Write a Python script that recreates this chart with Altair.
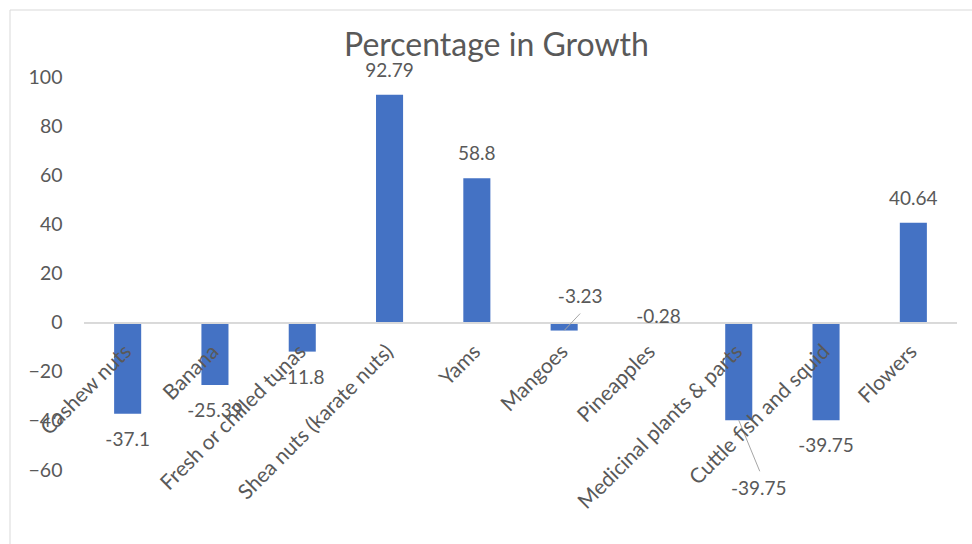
import altair as alt
import pandas as pd

categories = ["Cashew nuts", "Banana", "Fresh or chilled tunas", "Shea nuts (karate nuts)",
              "Yams", "Mangoes", "Pineapples", "Medicinal plants & parts",
              "Cuttle fish and squid", "Flowers"]
values = [-37.1, -25.39, -11.8, 92.79, 58.8, -3.23, -0.28, -39.75, -39.75, 40.64]
value_labels = ["-37.1", "-25.39", "-11.8", "92.79", "58.8", "-3.23", "-0.28", "-39.75", "-39.75", "40.64"]
y_ticks = [-60, -40, -20, 0, 20, 40, 60, 80, 100]

df = pd.DataFrame({"cat": categories, "val": values, "lab": value_labels})

FONT = "Lato"
GREY = "#595959"
BLUE = "#4472C4"

xenc = alt.X("cat:N", sort=categories, axis=None,
             scale=alt.Scale(paddingInner=0, paddingOuter=0))
yscale = alt.Scale(domain=[-60, 100], nice=False, zero=False)
yaxis = alt.Axis(values=y_ticks, title=None, domain=False, ticks=False,
                 grid=False, labelFont=FONT, labelFontSize=19.5,
                 labelColor=GREY, labelPadding=22)
yenc = alt.Y("val:Q", axis=yaxis, scale=yscale)

base = alt.Chart(df)

border = alt.Chart(pd.DataFrame({"a": [0]})).mark_rect(
    fillOpacity=0, stroke="#d9d9d9", strokeWidth=1
).encode(x=alt.value(-74), x2=alt.value(1000), y=alt.value(-67), y2=alt.value(600))

bars = base.mark_bar(color=BLUE, width=alt.RelativeBandSize(0.31)).encode(x=xenc, y=yenc)

zero = base.mark_rule(color="#d9d9d9", strokeWidth=1.5).encode(
    y=alt.datum(0, axis=yaxis, scale=yscale))

def lab_layer(cond, dx, dy):
    return base.transform_filter(cond).mark_text(
        font=FONT, fontSize=19, color=GREY, align="center", baseline="middle", dx=dx, dy=dy
    ).encode(x=xenc, y=yenc, text="lab:N")

pos_labels = lab_layer("datum.val > 0", 0, -24)
neg_labels = lab_layer("datum.val < 0 && datum.cat != 'Mangoes' && datum.cat != 'Pineapples' "
                       "&& datum.cat != 'Medicinal plants & parts'", 0, 26)
mango_label = lab_layer("datum.cat == 'Mangoes'", 16, -34)
pine_label = lab_layer("datum.cat == 'Pineapples'", 7, -6)
med_label = lab_layer("datum.cat == 'Medicinal plants & parts'", 20, 69)

def leader(name, x2o, y2o):
    return base.transform_filter(f"datum.cat == '{name}'").mark_rule(
        color="#a6a6a6", strokeWidth=1, x2Offset=x2o, y2Offset=y2o
    ).encode(x=xenc, x2="cat:N", y=yenc, y2="val:Q")

mango_leader = leader("Mangoes", 16, -17)
med_leader = leader("Medicinal plants & parts", 21, 51)

cat_labels = base.mark_text(
    font=FONT, fontSize=21, color=GREY, align="right", baseline="middle",
    angle=315, dx=-18, dy=19
).encode(x=xenc, y=alt.datum(0, axis=yaxis, scale=yscale), text="cat:N")

chart = alt.layer(
    border, bars, zero, mango_leader, med_leader,
    pos_labels, neg_labels, mango_label, pine_label, med_label, cat_labels
).properties(
    width=873, height=393,
    title=alt.TitleParams("Percentage in Growth", font=FONT, fontSize=32, fontWeight="normal",
                          color=GREY, anchor="middle", dx=-24, offset=12,
                          baseline="alphabetic", dy=90),
    autosize=alt.AutoSizeParams(type="none"),
    padding={"left": 84, "top": 77, "right": 15, "bottom": 74},
    background="white"
).configure_view(stroke=None)

chart.save("out.html", embed_options={"renderer": "svg", "actions": False})
